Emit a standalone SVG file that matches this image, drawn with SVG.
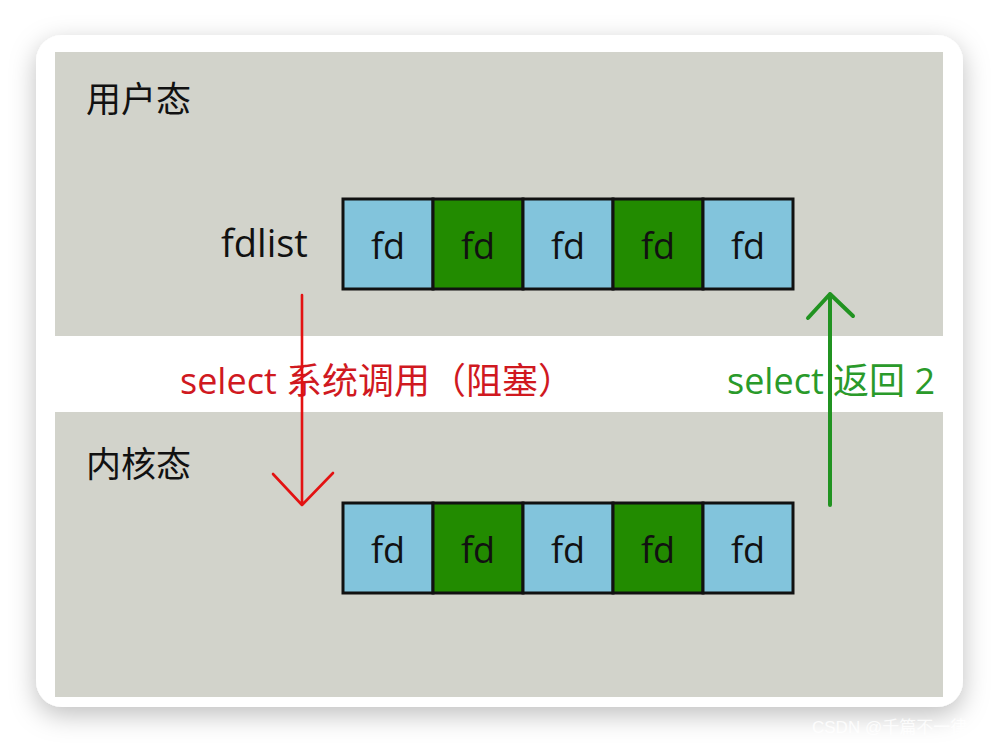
<svg xmlns="http://www.w3.org/2000/svg" width="1000" height="744" viewBox="0 0 1000 744">
<style>
.lbl{font-family:"Open Sans","Noto Sans CJK SC",sans-serif;font-size:35px;fill:#111}
.fd{font-family:"Open Sans","Noto Sans",sans-serif;font-size:36px;fill:#111;text-anchor:middle}
.cell{stroke:#111;stroke-width:3}
.blue{fill:#82c4dc}
.green{fill:#228b00}
.red{stroke:#e31212;fill:none;stroke-width:2.6;stroke-linecap:round;stroke-linejoin:round}
.grn{stroke:#219321;fill:none;stroke-width:4;stroke-linecap:round;stroke-linejoin:round}
</style>
<defs>
<filter id="sh" x="-10%" y="-10%" width="120%" height="125%">
<feDropShadow dx="0" dy="8" stdDeviation="13" flood-color="#000" flood-opacity="0.25"/>
</filter>
<clipPath id="wm"><rect x="0" y="0" width="990" height="744"/></clipPath>
</defs>
<rect width="1000" height="744" fill="#fff"/>
<rect x="36" y="35" width="927" height="672" rx="26" fill="#fff" filter="url(#sh)"/>
<g id="panels">
<rect x="55" y="52" width="888" height="284" fill="#d2d3cb"/>
<rect x="55" y="412" width="888" height="285" fill="#d2d3cb"/>
</g>
<g id="user-mode"><text class="lbl" x="86" y="112">用户态</text></g>
<g id="kernel-mode"><text class="lbl" x="86" y="477">内核态</text></g>
<g id="fdlist-label"><text class="lbl" x="221" y="257" style="font-size:38px">fdlist</text></g>
<g id="fdlist-top">
<rect class="cell blue" x="343" y="199" width="90" height="90"/>
<rect class="cell green" x="433" y="199" width="90" height="90"/>
<rect class="cell blue" x="523" y="199" width="90" height="90"/>
<rect class="cell green" x="613" y="199" width="90" height="90"/>
<rect class="cell blue" x="703" y="199" width="90" height="90"/>
<text class="fd" x="388" y="259">fd</text>
<text class="fd" x="478" y="259">fd</text>
<text class="fd" x="568" y="259">fd</text>
<text class="fd" x="658" y="259">fd</text>
<text class="fd" x="748" y="259">fd</text>
</g>
<g id="fdlist-bottom">
<rect class="cell blue" x="343" y="503" width="90" height="90"/>
<rect class="cell green" x="433" y="503" width="90" height="90"/>
<rect class="cell blue" x="523" y="503" width="90" height="90"/>
<rect class="cell green" x="613" y="503" width="90" height="90"/>
<rect class="cell blue" x="703" y="503" width="90" height="90"/>
<text class="fd" x="388" y="563">fd</text>
<text class="fd" x="478" y="563">fd</text>
<text class="fd" x="568" y="563">fd</text>
<text class="fd" x="658" y="563">fd</text>
<text class="fd" x="748" y="563">fd</text>
</g>
<g id="labels">
<text x="180" y="394" font-family="Open Sans,Noto Sans CJK SC,sans-serif" font-size="36" fill="#d0191f">select 系统调用（阻塞）</text>
<text x="727" y="394" font-family="Open Sans,Noto Sans CJK SC,sans-serif" font-size="36" fill="#2a9a2a">select 返回 2</text>
</g>
<g id="connectors">
<path class="red" d="M302 295 V505 M273 474 L302 505 L333 473"/>
<path class="grn" d="M830 505 V294 M808 318 L830 294 L853 316"/>
</g>
<text x="812" y="733" clip-path="url(#wm)" font-family="Liberation Sans,Noto Sans CJK SC,sans-serif" font-size="17" fill="#fff" fill-opacity="0.85">CSDN @千篇不一律</text>
</svg>
